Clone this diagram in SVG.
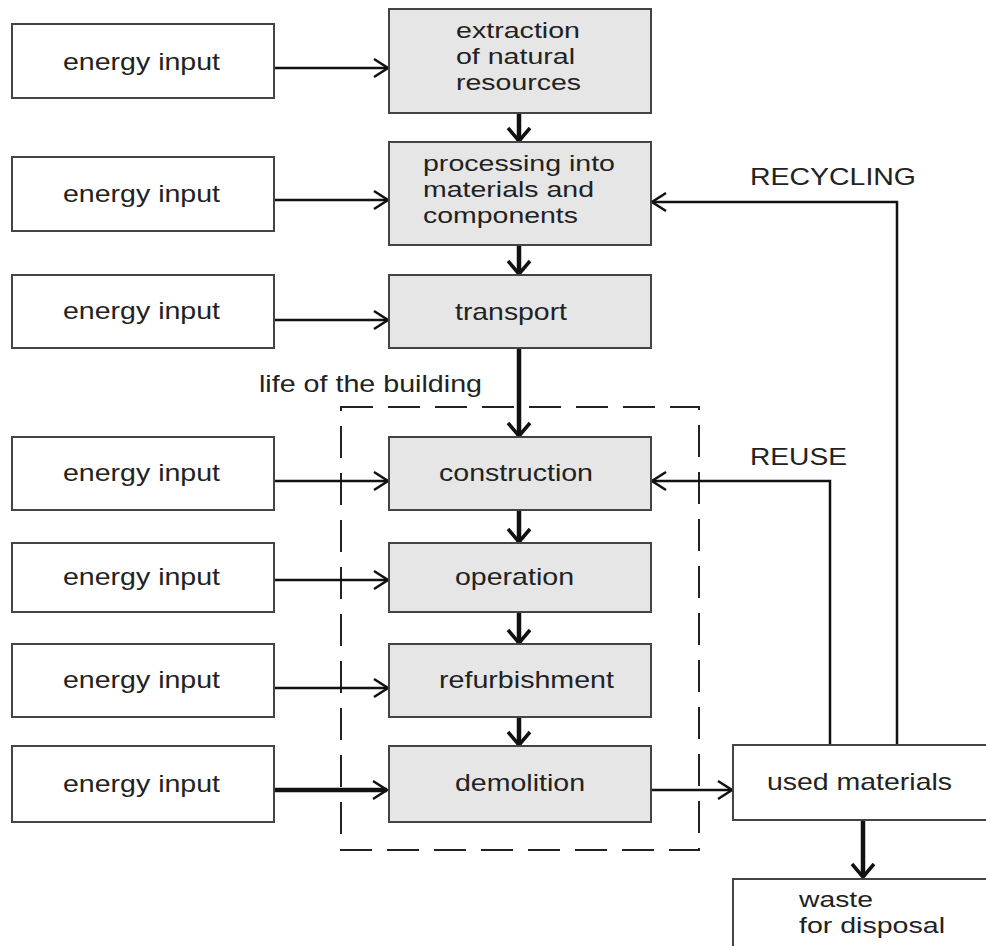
<svg xmlns="http://www.w3.org/2000/svg" width="986" height="946" viewBox="0 0 986 946">
<defs>
<style>
.in{fill:#fff;stroke:#444;stroke-width:2}
.pr{fill:#e6e6e6;stroke:#444;stroke-width:2}
text{font-family:"Liberation Sans",Arial,sans-serif;font-size:24px;fill:#222}
.ml{font-size:22px}
.ln{fill:none;stroke:#111;stroke-width:2.5}
.th{fill:none;stroke:#111;stroke-width:4.5}
.dash{fill:none;stroke:#222;stroke-width:2;stroke-dasharray:32,15}
</style>
<marker id="ah" viewBox="0 0 18 22" refX="16" refY="11" markerWidth="18" markerHeight="22" markerUnits="userSpaceOnUse" orient="auto">
<path d="M2,2 L16,11 L2,20" fill="none" stroke="#111" stroke-width="2.5"/>
</marker>
<marker id="ahb" viewBox="0 0 18 26" refX="15" refY="13" markerWidth="18" markerHeight="26" markerUnits="userSpaceOnUse" orient="auto">
<path d="M2,2 L15,13 L2,24" fill="none" stroke="#111" stroke-width="3.5"/>
</marker>
</defs>
<rect width="986" height="946" fill="#fff"/>

<g id="life">
<rect class="dash" x="341" y="407" width="358" height="443"/>
<text x="259" y="392" textLength="223" lengthAdjust="spacingAndGlyphs">life of the building</text>
</g>

<g id="connectors">
<path class="ln" d="M274,68 H388" marker-end="url(#ah)"/>
<path class="ln" d="M274,200 H388" marker-end="url(#ah)"/>
<path class="ln" d="M274,320 H388" marker-end="url(#ah)"/>
<path class="ln" d="M274,481 H388" marker-end="url(#ah)"/>
<path class="ln" d="M274,580 H388" marker-end="url(#ah)"/>
<path class="ln" d="M274,688 H388" marker-end="url(#ah)"/>
<path class="th" d="M274,790 H387" marker-end="url(#ah)"/>
<path class="th" d="M519,113 V141" marker-end="url(#ahb)"/>
<path class="th" d="M519,245 V274" marker-end="url(#ahb)"/>
<path class="th" d="M519,348 V436" marker-end="url(#ahb)"/>
<path class="th" d="M519,510 V542" marker-end="url(#ahb)"/>
<path class="th" d="M519,612 V643" marker-end="url(#ahb)"/>
<path class="th" d="M519,717 V745" marker-end="url(#ahb)"/>
<path class="ln" d="M651,790 H732" marker-end="url(#ah)"/>
<path class="th" d="M863,820 V877" marker-end="url(#ahb)"/>
<path class="ln" d="M897,745 V202 H652" marker-end="url(#ah)"/>
<path class="ln" d="M830,745 V481 H652" marker-end="url(#ah)"/>
<text x="750" y="185" textLength="166" lengthAdjust="spacingAndGlyphs">RECYCLING</text>
<text x="750" y="465" textLength="97" lengthAdjust="spacingAndGlyphs">REUSE</text>
</g>

<g id="e1"><rect class="in" x="12" y="24" width="262" height="74"/><text x="63" y="70" textLength="157" lengthAdjust="spacingAndGlyphs">energy input</text></g>
<g id="e2"><rect class="in" x="12" y="157" width="262" height="74"/><text x="63" y="202" textLength="157" lengthAdjust="spacingAndGlyphs">energy input</text></g>
<g id="e3"><rect class="in" x="12" y="275" width="262" height="73"/><text x="63" y="319" textLength="157" lengthAdjust="spacingAndGlyphs">energy input</text></g>
<g id="e4"><rect class="in" x="12" y="437" width="262" height="73"/><text x="63" y="481" textLength="157" lengthAdjust="spacingAndGlyphs">energy input</text></g>
<g id="e5"><rect class="in" x="12" y="543" width="262" height="69"/><text x="63" y="585" textLength="157" lengthAdjust="spacingAndGlyphs">energy input</text></g>
<g id="e6"><rect class="in" x="12" y="644" width="262" height="73"/><text x="63" y="688" textLength="157" lengthAdjust="spacingAndGlyphs">energy input</text></g>
<g id="e7"><rect class="in" x="12" y="746" width="262" height="76"/><text x="63" y="792" textLength="157" lengthAdjust="spacingAndGlyphs">energy input</text></g>

<g id="extraction"><rect class="pr" x="389" y="9" width="262" height="104"/>
<text class="ml" x="456" y="38" textLength="124" lengthAdjust="spacingAndGlyphs">extraction</text>
<text class="ml" x="456" y="64" textLength="119" lengthAdjust="spacingAndGlyphs">of natural</text>
<text class="ml" x="456" y="90" textLength="125" lengthAdjust="spacingAndGlyphs">resources</text></g>
<g id="processing"><rect class="pr" x="389" y="142" width="262" height="103"/>
<text class="ml" x="423" y="171" textLength="192" lengthAdjust="spacingAndGlyphs">processing into</text>
<text class="ml" x="423" y="197" textLength="171" lengthAdjust="spacingAndGlyphs">materials and</text>
<text class="ml" x="423" y="223" textLength="155" lengthAdjust="spacingAndGlyphs">components</text></g>
<g id="transport"><rect class="pr" x="389" y="275" width="262" height="73"/><text x="455" y="320" textLength="112" lengthAdjust="spacingAndGlyphs">transport</text></g>
<g id="construction"><rect class="pr" x="389" y="437" width="262" height="73"/><text x="439" y="481" textLength="154" lengthAdjust="spacingAndGlyphs">construction</text></g>
<g id="operation"><rect class="pr" x="389" y="543" width="262" height="69"/><text x="455" y="585" textLength="119" lengthAdjust="spacingAndGlyphs">operation</text></g>
<g id="refurbishment"><rect class="pr" x="389" y="644" width="262" height="73"/><text x="439" y="688" textLength="175" lengthAdjust="spacingAndGlyphs">refurbishment</text></g>
<g id="demolition"><rect class="pr" x="389" y="746" width="262" height="76"/><text x="455" y="791" textLength="130" lengthAdjust="spacingAndGlyphs">demolition</text></g>
<g id="used"><rect class="in" x="733" y="745" width="262" height="75"/><text x="767" y="790" textLength="185" lengthAdjust="spacingAndGlyphs">used materials</text></g>
<g id="waste"><rect class="in" x="733" y="879" width="262" height="80"/>
<text class="ml" x="799" y="907" textLength="74" lengthAdjust="spacingAndGlyphs">waste</text>
<text class="ml" x="799" y="933" textLength="146" lengthAdjust="spacingAndGlyphs">for disposal</text></g>
</svg>
